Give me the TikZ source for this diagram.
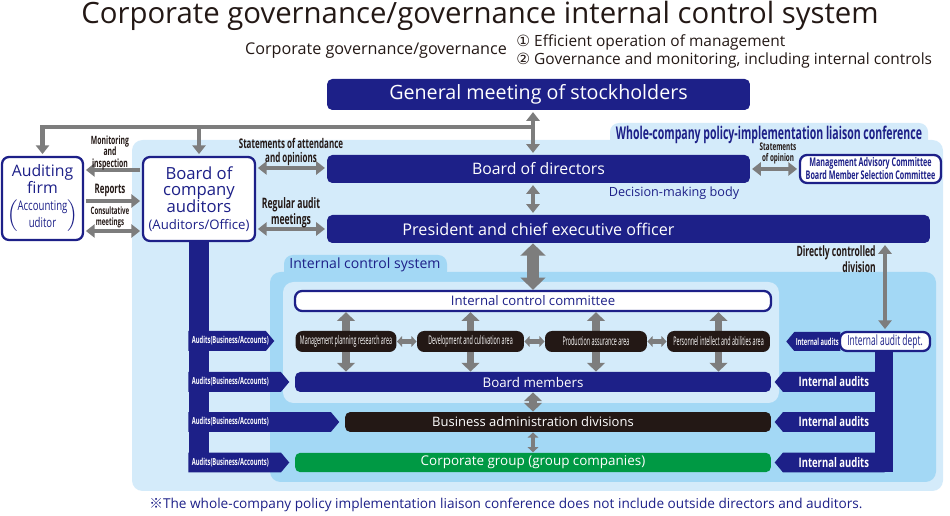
\documentclass[tikz,border=0pt]{standalone}
\usepackage{fontspec}
\setmainfont{Open Sans}
\newfontfamily\condfont[FakeStretch=0.6]{Open Sans}
\newfontfamily\narrowfont[FakeStretch=0.72]{Open Sans}
\newfontfamily\areafont[FakeStretch=0.45]{Open Sans}
\newfontfamily\symfont{DejaVu Sans}
\newfontfamily\markfont{Noto Sans CJK JP}
\usetikzlibrary{arrows.meta}
\usetikzlibrary{shapes.symbols}
\definecolor{navy}{RGB}{29,32,136}
\definecolor{ink}{RGB}{35,24,21}
\definecolor{arrowgray}{RGB}{125,125,125}
\definecolor{lightpanel}{RGB}{212,235,250}
\definecolor{midpanel}{RGB}{163,216,245}
\definecolor{groupgreen}{RGB}{0,153,68}

\begin{document}
\begin{tikzpicture}[x=0.02cm, y=-0.02cm,
        darkbox/.style={rectangle, rounded corners=3pt, fill=navy, text=white, inner sep=0pt},
        whitebox/.style={rectangle, rounded corners=4pt, draw=navy, line width=1.3pt, fill=white, text=navy, inner sep=0pt},
        areabox/.style={rectangle, rounded corners=4pt, fill=ink, text=white, inner sep=0pt, minimum height=0.42cm, font=\areafont\fontsize{6.8}{7}\selectfont},
        talk/.style={text=ink, align=center, inner sep=0pt, font=\condfont\bfseries\fontsize{6}{6.3}\selectfont},
        lsign/.style={signal, signal to=east, signal pointer angle=100, fill=navy, text=white, anchor=west, inner xsep=2pt, inner ysep=0pt, minimum height=0.4cm, align=left, font=\condfont\bfseries\fontsize{5.5}{6}\selectfont},
        rsign/.style={signal, signal to=west, signal pointer angle=100, fill=navy, text=white, anchor=east, inner sep=0pt, minimum height=0.4cm, font=\narrowfont\bfseries\fontsize{7.5}{8}\selectfont},
        link/.style={draw=arrowgray, line width=2.3pt, shorten <=1pt, shorten >=1pt},
        oneway/.style={link, -{Triangle[width=7.5pt,length=5pt]}},
        twoway/.style={link, {Triangle[width=7.5pt,length=5pt]}-{Triangle[width=7.5pt,length=5pt]}},
        fatway/.style={draw=arrowgray, line width=4pt, {Triangle[width=10pt,length=5pt]}-{Triangle[width=10pt,length=5pt]}},
    ]
    \useasboundingbox (0,0) rectangle (950,516);

    % headings
    \node (title) at (480,16) [text=ink, font=\fontsize{16.7}{18}\selectfont]{Corporate governance/governance internal control system};
    \node (sub) at (376,51) [text=ink, font=\fontsize{9.2}{11}\selectfont]{Corporate governance/governance};
    \node (aims) at (516,51) [anchor=west, align=left, text=ink, inner sep=0pt, font=\fontsize{8.8}{10.2}\selectfont]{{\symfont ①} Efficient operation of management\\{\symfont ②} Governance and monitoring, including internal controls};

    % panels
    \fill[lightpanel, rounded corners=5pt] (610,123) rectangle (928,150);
    \fill[lightpanel, rounded corners=6pt] (132,140) rectangle (943,491);
    \fill[midpanel, rounded corners=5pt] (284,255) rectangle (447,280);
    \fill[midpanel, rounded corners=6pt] (270,272) rectangle (936,482);
    \fill[lightpanel, rounded corners=6pt] (283,282) rectangle (779,403);
    \node (wholeco) at (769,135) [text=navy, font=\condfont\bfseries\fontsize{10}{11}\selectfont]{Whole-company policy-implementation liaison conference};
    \node (icsys) at (365,265) [text=navy, font=\fontsize{8}{9}\selectfont]{Internal control system};

    % audit bars
    \fill[navy] (189,238) rectangle (209,472);
    \fill[navy] (875,345) rectangle (893,472);
    \node (aud1) at (188,341) [lsign, text width=1.41cm]{Audits(Business/Accounts)};
    \node (aud2) at (188,382) [lsign, text width=1.71cm]{Audits(Business/Accounts)};
    \node (aud3) at (188,422) [lsign, text width=2.71cm]{Audits(Business/Accounts)};
    \node (aud4) at (188,462.5) [lsign, text width=1.71cm]{Audits(Business/Accounts)};
    \node (int2) at (885,382) [rsign, minimum width=2.2cm]{Internal audits};
    \node (int3) at (885,422) [rsign, minimum width=2.2cm]{Internal audits};
    \node (int4) at (885,462.5) [rsign, minimum width=2.2cm]{Internal audits};

    % boxes
    \node (gm) at (538.5,94.5) [darkbox, minimum width=8.46cm, minimum height=0.62cm, font=\fontsize{11.2}{12}\selectfont]{General meeting of stockholders};
    \node (bod) at (538.5,169) [darkbox, minimum width=8.46cm, minimum height=0.56cm, font=\fontsize{9}{11}\selectfont]{Board of directors};
    \node (ceo) at (628.5,229) [darkbox, minimum width=12.06cm, minimum height=0.56cm]{};
    \node (ceotext) at (538.5,229) [text=white, font=\fontsize{9.2}{11}\selectfont]{President and chief executive officer};
    \node (mac) at (870.5,169) [whitebox, minimum width=2.82cm, minimum height=0.56cm, align=center, font=\condfont\bfseries\fontsize{6.8}{7.4}\selectfont]{Management Advisory Committee\\Board Member Selection Committee};
    \node (firm) at (42.5,198.5) [whitebox, minimum width=1.62cm, minimum height=1.66cm, align=center, font=\fontsize{9}{9.5}\selectfont]{Auditing\\firm\\[2pt]$\left(\begin{tabular}{@{}c@{}}\narrowfont\fontsize{7.6}{8}\selectfont Accounting\\\narrowfont\fontsize{7.6}{8}\selectfont uditor\end{tabular}\right)$};
    \node (auditors) at (199,199) [whitebox, minimum width=2.24cm, minimum height=1.68cm, align=center, font=\fontsize{9.5}{9.5}\selectfont]{Board of\\company\\auditors\\{\fontsize{7.5}{9}\selectfont (Auditors/Office)}};
    \node (decide) at (674,193) [text=navy, font=\fontsize{7.2}{9}\selectfont]{Decision-making body};

    \node (icc) at (533,301) [whitebox, minimum width=9.52cm, minimum height=0.4cm, font=\fontsize{7.5}{9}\selectfont]{Internal control committee};
    \node (members) at (533,382) [darkbox, minimum width=9.52cm, minimum height=0.4cm, font=\fontsize{7.6}{9}\selectfont]{Board members};
    \node (bizadmin) at (558,422) [darkbox, fill=ink, minimum width=8.52cm, minimum height=0.4cm]{};
    \node (biztext) at (533,422) [text=white, font=\fontsize{7.4}{9}\selectfont]{Business administration divisions};
    \node (group) at (533,462.5) [darkbox, fill=groupgreen, minimum width=9.52cm, minimum height=0.39cm, font=\fontsize{7.65}{9}\selectfont]{Corporate group (group companies)};
    \node (iad) at (885,341.5) [whitebox, minimum width=1.8cm, minimum height=0.38cm, font=\condfont\fontsize{8}{9}\selectfont]{Internal audit dept.};
    \node (int1) at ([xshift=1pt]iad.west) [rsign, minimum width=1.08cm, minimum height=0.38cm, font=\condfont\bfseries\fontsize{5.5}{6}\selectfont]{Internal audits};

    % connectors
    \coordinate (top) at (533,127);
    \draw[twoway] (gm.south -| top) -- (bod.north -| top);
    \draw[oneway] (top) -| (firm.north);
    \draw[oneway] (auditors.north |- top) -- (auditors.north);
    \draw[oneway] (auditors.west |- 0,170) -- (firm.east |- 0,170);
    \draw[oneway] (firm.east |- 0,201) -- (auditors.west |- 0,201);
    \draw[twoway] (firm.east |- 0,231) -- (auditors.west |- 0,231);
    \draw[twoway] (auditors.east |- 0,168) -- (bod.west |- 0,168);
    \draw[twoway] (auditors.east |- 0,229) -- (ceo.west |- 0,229);
    \draw[twoway] (bod.east) -- (mac.west);
    \draw[twoway] (bod.south -| top) -- (ceo.north -| top);
    \draw[twoway] (iad.north |- ceo.south) -- (iad.north);
    \draw[draw=arrowgray, line width=7pt, {Triangle[width=14pt,length=7pt]}-{Triangle[width=14pt,length=7pt]}] (ceo.south -| icc) -- (icc.north);

    \node (talk1) at (110,153) [talk, font=\condfont\bfseries\fontsize{6.5}{6.8}\selectfont]{Monitoring\\and\\inspection};
    \node (talk2) at (110,190) [talk, font=\condfont\bfseries\fontsize{7.5}{8}\selectfont]{Reports};
    \node (talk3) at (110,217) [talk, font=\condfont\bfseries\fontsize{5.8}{6.3}\selectfont]{Consultative\\meetings};
    \node (talk4) at (291,152) [talk, font=\condfont\bfseries\fontsize{7.6}{7.6}\selectfont]{Statements of attendance\\and opinions};
    \node (talk5) at (291,213) [talk, font=\condfont\bfseries\fontsize{8.2}{7.6}\selectfont]{Regular audit\\meetings};
    \node (talk6) at (778,153) [talk]{Statements\\of opinion};
    \node (talk7) at (876,259) [talk, anchor=east, align=right, font=\condfont\bfseries\fontsize{8.1}{8}\selectfont]{Directly controlled\\division};

    % areas
    \foreach \x in {346, 470.5, 596, 718.5}
        \draw[fatway] (icc.south -| \x,0) -- (members.north -| \x,0);
    \node (area1) at (346,341.5) [areabox, minimum width=2.02cm]{Management planning research area};
    \node (area2) at (470.5,341.5) [areabox, minimum width=2.14cm]{Development and cultivation area};
    \node (area3) at (596,341.5) [areabox, minimum width=2.04cm]{Production assurance area};
    \node (area4) at (718.5,341.5) [areabox, minimum width=2.06cm]{Personnel intellect and abilities area};
    \draw[draw=arrowgray, line width=2.5pt, {Triangle[width=6pt,length=3pt]}-{Triangle[width=6pt,length=3pt]}] (area1.east) -- (area2.west);
    \draw[draw=arrowgray, line width=2.5pt, {Triangle[width=6pt,length=3pt]}-{Triangle[width=6pt,length=3pt]}] (area2.east) -- (area3.west);
    \draw[draw=arrowgray, line width=2.5pt, {Triangle[width=6pt,length=3pt]}-{Triangle[width=6pt,length=3pt]}] (area3.east) -- (area4.west);
    \draw[fatway] (members.south) -- (bizadmin.north -| members);
    \draw[draw=arrowgray, line width=2pt, {Triangle[width=6pt,length=3pt]}-{Triangle[width=6pt,length=3pt]}] (bizadmin.south -| members) -- (group.north);

    \node (note) at (506,505) [text=navy, font=\fontsize{7.75}{9}\selectfont]{{\markfont ※}The whole-company policy implementation liaison conference does not include outside directors and auditors.};
\end{tikzpicture}
\end{document}
